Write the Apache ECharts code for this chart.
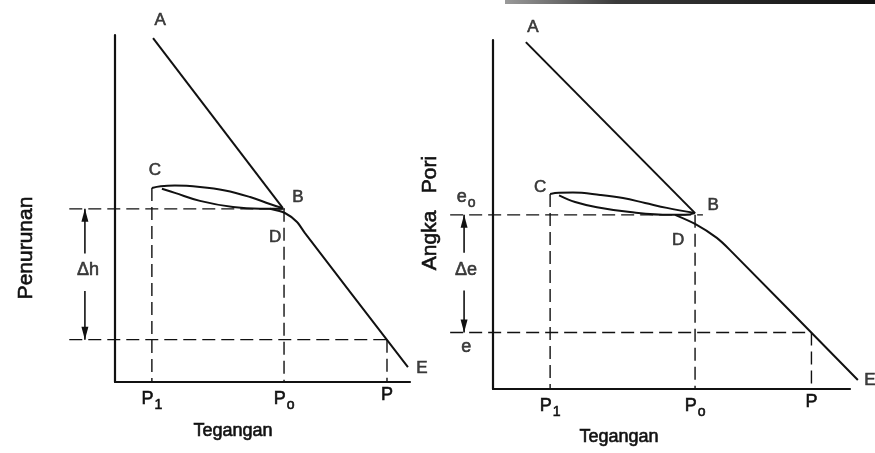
<!DOCTYPE html>
<html>
<head>
<meta charset="utf-8">
<script src="https://cdn.jsdelivr.net/npm/echarts@6/dist/echarts.min.js"></script>
<style>
html, body { margin: 0; padding: 0; background: #fff; }
#chart { width: 875px; height: 453px; }
</style>
</head>
<body>
<div id="chart"></div>
<script>
// panel kiri: penurunan - tegangan
var leftAB = [[1.29, 9.91], [5.69, 5.01]];
var leftReload = [[1.25, 5.59], [1.55, 5.64], [2.03, 5.66], [2.88, 5.62], [3.73, 5.52], [4.58, 5.33], [5.25, 5.13], [5.69, 5.01]];
var leftUnload = [[5.69, 4.99], [4.92, 4.99], [4.00, 5.04], [2.88, 5.22], [2.03, 5.45], [1.59, 5.57]];
var leftVirgin = [[5.25, 4.99], [5.76, 4.87], [6.17, 4.61], [6.44, 4.29], [9.93, 0.43]];
var leftStress = [1.25, 5.73, 9.22];   // P1, Po, P
var leftLevels = [4.99, 1.22];         // batas atas / bawah dh

// panel kanan: angka pori - tegangan
var rightAB = [[0.92, 9.94], [5.66, 5.04]];
var rightReload = [[1.60, 5.59], [1.85, 5.62], [2.24, 5.63], [3.00, 5.56], [3.64, 5.47], [4.26, 5.33], [4.87, 5.19], [5.66, 5.04]];
var rightUnload = [[5.66, 5.04], [5.38, 4.99], [4.96, 4.99], [3.84, 5.07], [2.91, 5.21], [2.30, 5.36], [1.85, 5.55]];
var rightVirgin = [[5.10, 4.99], [5.66, 4.73], [6.27, 4.33], [6.64, 3.98], [10.22, 0.26]];
var rightStress = [1.60, 5.66, 8.92];  // P1, Po, P
var rightLevels = [4.99, 1.62];        // eo, e

var stressNames = ['P{s|1}', 'P{s|o}', 'P'];
var pointNames = ['A', 'B', 'C', 'D', 'E'];
var levelNames = ['e{s|o}', 'e'];
var deltaNames = ['\u0394h', '\u0394e'];

var ink = '#111';
var font = 'Liberation Sans';
var subRich = {
    p: { fontSize: 18, color: ink, fontFamily: font, textBorderColor: ink, textBorderWidth: 0.6 },
    s: { fontSize: 14, color: ink, fontFamily: font, textBorderColor: ink, textBorderWidth: 0.6, padding: [12, 0, 0, 1] }
};

function richText(t) {
    return t.indexOf('{') >= 0 ? '{p|' + t.split('{')[0] + '}{' + t.split('{')[1] : '{p|' + t + '}';
}

function solid(idx, data, smooth) {
    return {
        type: 'line', xAxisIndex: idx, yAxisIndex: idx, data: data,
        smooth: smooth, symbol: 'none', clip: false, silent: true,
        lineStyle: { color: ink, width: 2 }
    };
}

function dashed(idx, data) {
    return {
        type: 'line', xAxisIndex: idx, yAxisIndex: idx, data: data,
        symbol: 'none', clip: false, silent: true,
        lineStyle: { color: ink, width: 1.4, type: [13, 6] }
    };
}

function arrow(idx, x, tip, end) {
    var up = tip > end;
    return {
        type: 'line', xAxisIndex: idx, yAxisIndex: idx, clip: false, silent: true,
        symbol: 'triangle', showSymbol: true,
        lineStyle: { color: ink, width: 1.6 },
        itemStyle: { color: ink },
        data: [
            { value: [x, tip], symbolSize: [7, 13], symbolRotate: up ? 0 : 180, symbolOffset: [0, up ? '50%' : '-50%'] },
            { value: [x, end], symbol: 'none' }
        ]
    };
}

function marks(idx, items, size) {
    return {
        type: 'scatter', xAxisIndex: idx, yAxisIndex: idx, clip: false, silent: true,
        symbolSize: 1, itemStyle: { color: 'rgba(0,0,0,0)' },
        label: {
            show: true, position: 'inside', color: ink, fontFamily: font, fontSize: size,
            textBorderColor: ink, textBorderWidth: 0.6,
            formatter: function (p) { return p.name.indexOf('{') >= 0 ? richText(p.name) : p.name; },
            rich: subRich
        },
        data: items
    };
}

function panel(idx, ab, reload, unload, virgin, stress, levels, guideStart, arrowX, offs) {
    var mid = (levels[0] + levels[1]) / 2;
    var last = virgin[virgin.length - 1];
    return [
        solid(idx, ab, false),
        solid(idx, reload, 0.4),
        solid(idx, unload, 0.4),
        solid(idx, virgin, 0.25),
        dashed(idx, [[guideStart, levels[0]], [offs.levelEnd, levels[0]]]),
        dashed(idx, [[guideStart, levels[1]], [stress[2], levels[1]]]),
        dashed(idx, [[stress[0], reload[0][1]], [stress[0], 0]]),
        dashed(idx, [[stress[1], levels[0]], [stress[1], 0]]),
        dashed(idx, [[stress[2], levels[1]], [stress[2], 0]]),
        arrow(idx, arrowX, levels[0], mid + 0.6),
        arrow(idx, arrowX, levels[1], mid - 0.48),
        marks(idx, [
            { name: pointNames[0], value: ab[0], label: { offset: offs.A } },
            { name: pointNames[1], value: ab[1], label: { offset: offs.B } },
            { name: pointNames[2], value: reload[0], label: { offset: offs.C } },
            { name: pointNames[3], value: [stress[1], levels[0]], label: { offset: offs.D } },
            { name: pointNames[4], value: last, label: { offset: offs.E } }
        ], 17),
        marks(idx, [{ name: deltaNames[idx], value: [arrowX, mid], label: { offset: offs.delta } }], 18)
    ];
}

// plot grids (0,1) are wider than the axis frames so guides can reach left of the axis
function plotAxis(idx, min, max) {
    return { gridIndex: idx, type: 'value', min: min, max: max, show: false };
}

function stressAxis(idx, stress) {
    return {
        gridIndex: idx, type: 'value', min: 0, max: 10,
        axisLine: { show: true, onZero: false, lineStyle: { color: ink, width: 2.2 } },
        axisTick: { show: false },
        splitLine: { show: false },
        axisLabel: {
            customValues: stress, margin: 4, rich: subRich,
            formatter: function (v) {
                var i = stress.indexOf(v);
                return i < 0 ? '' : richText(stressNames[i]);
            }
        }
    };
}

function valueAxis(idx) {
    return {
        gridIndex: idx, type: 'value', min: 0, max: 10,
        axisLine: { show: true, onZero: false, lineStyle: { color: ink, width: 2.2 } },
        axisTick: { show: false },
        axisLabel: { show: false },
        splitLine: { show: false }
    };
}

var series = []
    .concat(panel(0, leftAB, leftReload, leftUnload, leftVirgin, leftStress, leftLevels, -1.55, -1.02, {
        levelEnd: 5.76, A: [7, -18], B: [15, -11], C: [3, -18], D: [-9, 28], E: [14, 1], delta: [3, -4]
    }))
    .concat(panel(1, rightAB, rightReload, rightUnload, rightVirgin, rightStress, rightLevels, -1.2, -0.81, {
        levelEnd: 5.88, A: [7, -15], B: [18, -8], C: [-10, -7], D: [-17, 25], E: [12, 0], delta: [2, -4]
    }))
    .concat([marks(1, [
        { name: levelNames[0], value: [-0.75, rightLevels[0]], label: { offset: [0, -18] } },
        { name: levelNames[1], value: [-0.75, rightLevels[1]], label: { offset: [0, 15] } }
    ], 18)]);

var chart = echarts.init(document.getElementById('chart'));
chart.setOption({
    animation: false,
    backgroundColor: '#fff',
    grid: [
        { left: 56, top: 35, width: 354, height: 347 },
        { left: 439.45, top: 40, width: 421.26, height: 349 },
        { left: 115, top: 35, width: 295, height: 347 },
        { left: 493, top: 40, width: 357, height: 349 }
    ],
    xAxis: [plotAxis(0, -2, 10), plotAxis(1, -1.5, 10.3), stressAxis(2, leftStress), stressAxis(3, rightStress)],
    yAxis: [plotAxis(0, 0, 10), plotAxis(1, 0, 10), valueAxis(2), valueAxis(3)],
    graphic: [
        { type: 'rect', shape: { x: 505, y: 0, width: 370, height: 4 },
          style: { fill: new echarts.graphic.LinearGradient(0, 0, 1, 0, [{ offset: 0, color: '#9a9a9a' }, { offset: 0.3, color: '#3a3a3a' }, { offset: 1, color: '#111' }]) } },
        { type: 'text', x: 26, y: 248, rotation: Math.PI / 2,
          style: { text: 'Penurunan', font: '21px "Liberation Sans"', fill: ink, stroke: ink, lineWidth: 0.6, textAlign: 'center', textVerticalAlign: 'middle' } },
        { type: 'text', x: 430, y: 213, rotation: Math.PI / 2,
          style: { text: 'Angka   Pori', font: '21px "Liberation Sans"', fill: ink, stroke: ink, lineWidth: 0.6, textAlign: 'center', textVerticalAlign: 'middle' } },
        { type: 'text', x: 233, y: 431,
          style: { text: 'Tegangan', font: '18px "Liberation Sans"', fill: ink, stroke: ink, lineWidth: 0.6, textAlign: 'center', textVerticalAlign: 'middle' } },
        { type: 'text', x: 619, y: 437,
          style: { text: 'Tegangan', font: '18px "Liberation Sans"', fill: ink, stroke: ink, lineWidth: 0.6, textAlign: 'center', textVerticalAlign: 'middle' } }
    ],
    series: series
});
</script>
</body>
</html>
